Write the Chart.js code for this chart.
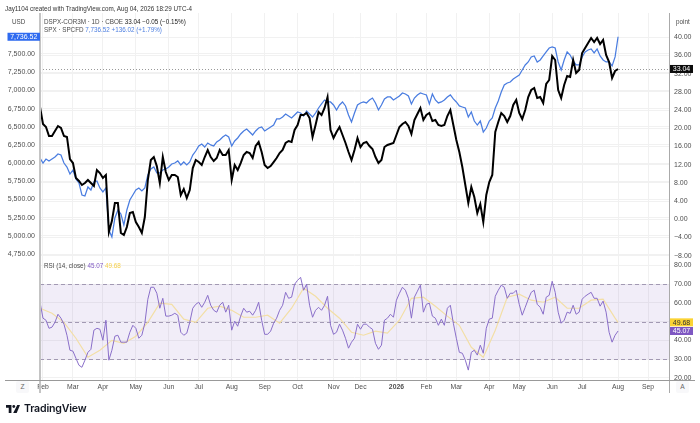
<!DOCTYPE html>
<html><head><meta charset="utf-8">
<script src="https://cdn.jsdelivr.net/npm/chart.js@4"></script>
<style>
html,body{margin:0;padding:0;background:#fff;overflow:hidden}
#w{position:relative;width:700px;height:423px;font-family:"Liberation Sans",Arial,sans-serif;color:#444}
canvas{position:absolute;left:0;top:0}
.t{position:absolute;font-size:6.3px;line-height:9px;white-space:pre;color:#4a4a4a}
.b{color:#4d7fe0}.k{color:#222}.p{color:#7e57c2}.y{color:#f5cf4a}
.btn{position:absolute;top:381px;width:13px;height:12px;background:#f8f8fa;border-radius:2px;text-align:center;font-size:6.6px;line-height:12px;color:#666}
#logo{position:absolute;left:6px;top:403px;height:11px;display:flex;align-items:center}
#logo span{font-family:Inter,"Liberation Sans",sans-serif;font-size:10.6px;font-weight:600;color:#131722;margin-left:4px;letter-spacing:-.2px;line-height:11px}
</style></head><body>
<div id="w">
<canvas id="c" width="700" height="423"></canvas>
<div class="t" style="left:5px;top:3.5px;color:#333">Jay1104 created with TradingView.com, Aug 04, 2026 18:29 UTC-4</div>
<div class="t" style="left:12px;top:17px">USD</div>
<div class="t" style="left:676px;top:17px">point</div>
<div class="t" style="left:44px;top:16.5px">DSPX-COR3M · 1D · CBOE <span class="k">33.04 −0.05 (−0.15%)</span></div>
<div class="t" style="left:44px;top:25px">SPX · SPCFD <span class="b">7,736.52 +136.02 (+1.79%)</span></div>
<div class="t" style="left:44px;top:261px">RSI (14, close) <span class="p">45.07</span> <span class="y">49.68</span></div>
<div class="btn" style="left:16px">Z</div>
<div class="btn" style="left:676px">A</div>
<div id="logo"><svg width="14" height="8" viewBox="0 0 36 20"><path fill="#131722" d="M0 0h14v20H7V7H0z"/><circle fill="#131722" cx="20" cy="3.6" r="3.6"/><path fill="#131722" d="M29 0h7l-8.5 20H18.5z"/></svg><span>TradingView</span></div>
</div>
<script>
const monthTickIndex = [1,11,21,32,43,53,64,75,86,98,107,119,129,139,150,160,171,181,193,203];
const monthTickLabel = ['Feb','Mar','Apr','May','Jun','Jul','Aug','Sep','Oct','Nov','Dec','2026','Feb','Mar','Apr','May','Jun','Jul','Aug','Sep'];
const sessionCount = 211;
const categories = Array.from({length: sessionCount}, (_, i) => 's' + i);

const priceTicks = [7500,7250,7000,6750,6500,6250,6000,5750,5500,5250,5000,4750];
const pointTicks = [40,36,32,28,24,20,16,12,8,4,0,-4,-8];
const rsiTicks = [80,70,60,50,40,30,20];
const rsiBands = [70,50,30];

const corr = [24.68,20.95,20.29,18.3,18.3,19.4,20.5,20.07,18.3,18.1,13.25,12.37,9.08,8.42,7.54,7.98,8.64,7.98,7.32,10.83,10.17,9.08,9.74,-2.8,-0.38,3.58,3.58,-3.0,-3.45,-1.69,1.38,1.6,-0.6,-1.69,-3.0,0.5,8.64,13.03,13.69,11.7,7.98,13.69,10.39,8.64,9.74,9.74,9.3,5.34,6.66,4.68,6.44,11.27,13.03,12.59,11.93,13.69,15.23,13.69,12.81,13.47,15.23,14.13,14.13,15.23,8.64,11.93,10.83,12.37,14.13,14.79,14.57,13.47,16.11,16.99,14.79,11.93,11.27,11.71,12.59,13.47,14.57,15.23,16.77,17.21,16.99,19.63,20.72,22.92,22.92,23.36,22.26,18.09,20.72,23.58,22.92,24.46,26.88,19.63,17.87,19.19,20.29,18.53,16.77,14.79,13.03,15.23,17.87,15.89,16.77,16.99,16.11,15.45,13.69,12.37,13.03,15.89,16.33,16.55,16.77,18.53,20.29,20.95,21.39,20.51,18.75,21.82,23.14,24.46,21.82,22.92,23.36,21.6,21.82,20.72,20.51,20.72,22.7,24.02,20.72,17.43,14.79,11.49,7.54,3.58,7.1,4.9,1.38,3.36,-0.6,5.34,8.2,9.74,19.19,21.39,23.36,22.7,21.39,22.7,25.12,26.22,23.36,22.04,24.02,26.88,28.42,28.86,26.66,26.88,25.56,29.74,30.62,35.89,35.01,28.42,26.66,29.52,31.5,31.28,35.01,32.15,32.81,36.55,37.65,38.75,39.85,38.97,39.85,38.53,39.41,36.11,34.57,31.06,32.59,33.04];

const spx = [6071,6002,6057,6030,6057,6085,6126,6112,6002,5947,5851,5906,5783,5728,5563,5549,5673,5631,5741,5755,5659,5604,5659,5082,4986,5247,5357,5302,5150,5357,5494,5563,5631,5659,5618,5659,5837,5920,5947,5865,5865,5906,5920,5947,5989,6002,6030,5975,6016,5975,6016,6112,6167,6236,6263,6222,6277,6250,6236,6291,6318,6360,6387,6360,6236,6305,6346,6401,6442,6470,6428,6387,6442,6483,6497,6442,6470,6497,6524,6607,6607,6634,6676,6648,6621,6662,6703,6689,6648,6717,6676,6634,6689,6758,6813,6868,6841,6841,6799,6731,6799,6841,6786,6662,6566,6689,6799,6827,6841,6827,6868,6895,6827,6731,6799,6882,6909,6909,6868,6895,6923,6964,6950,6923,6813,6895,6937,6964,6950,6937,6813,6950,6868,6827,6841,6868,6909,6937,6882,6841,6786,6772,6758,6634,6703,6579,6524,6579,6428,6483,6579,6621,6758,6854,6978,7074,7102,7115,7157,7184,7211,7280,7349,7390,7459,7473,7390,7418,7473,7528,7582,7596,7582,7390,7280,7418,7528,7486,7404,7349,7349,7459,7528,7555,7569,7514,7569,7473,7418,7390,7390,7335,7459,7736.52];

const rsi = [60.4,51.9,50.8,46.5,47.1,49.7,54.0,51.9,48.7,42.8,34.8,34.3,30.5,26.8,25.7,29.5,33.7,35.3,45.5,46.5,46.0,40.1,50.8,29.5,34.8,42.3,42.8,39.1,39.1,39.1,44.4,48.1,46.5,41.2,42.8,49.2,62.0,68.4,68.4,65.2,57.2,62.5,53.0,53.0,53.5,54.5,53.5,44.4,42.8,43.9,49.7,57.2,59.3,60.4,57.7,60.4,64.1,58.8,56.1,55.1,58.8,60.4,55.1,58.8,45.5,50.3,47.6,53.0,57.2,55.1,55.6,53.5,56.1,60.4,50.8,43.3,43.3,45.0,49.2,51.9,56.1,58.8,65.7,62.5,63.1,70.0,72.1,73.7,66.8,70.0,58.8,52.4,56.1,57.7,56.1,58.8,63.6,48.1,43.3,44.4,48.7,45.5,41.2,35.9,39.1,41.2,48.7,46.0,48.7,48.7,47.1,46.0,38.5,35.3,37.5,50.8,51.9,54.0,52.4,61.5,65.2,68.4,66.8,62.5,51.9,63.1,66.3,69.5,55.1,59.3,59.9,53.0,51.9,48.1,51.4,48.1,57.2,58.8,49.2,41.2,33.7,33.2,29.5,24.2,33.7,34.8,32.2,37.5,33.2,46.5,51.4,51.9,63.6,66.8,69.5,68.4,62.5,65.2,65.2,66.8,59.3,53.5,57.7,62.0,65.7,66.8,59.3,57.7,54.0,63.1,64.1,71.6,65.7,55.1,49.2,50.8,55.1,54.5,58.8,54.0,55.1,62.0,63.6,64.7,65.7,62.5,62.5,58.3,61.0,55.1,44.4,39.1,42.8,45.07];

const rsiMaIndex = [0,4,8,12,16,20,24,28,32,36,40,44,48,52,56,60,64,68,72,76,80,84,88,92,96,100,104,108,112,116,120,124,128,132,136,140,144,148,152,156,160,164,168,172,176,180,184,188,192,193];
const rsiMaValues = [57.2,54.5,49.7,41.2,31.1,34.8,40.1,38.5,42.3,49.7,59.9,59.3,51.4,49.7,57.2,58.3,56.1,52.4,52.4,53.5,49.2,57.2,67.9,63.6,57.2,51.9,44.4,42.8,45.0,43.9,50.8,62.5,63.1,58.3,53.0,48.1,36.4,31.1,45.5,63.1,64.7,61.5,60.4,63.1,57.2,57.2,61.5,62.0,51.9,49.68];

const lastCorr = 33.04, lastSpx = 7736.52, lastRsi = 45.07, lastMa = 49.68;

const FONT = '"Liberation Sans", Arial, sans-serif';
const GRID = '#f1f1f1', TICK = '#4f4f4f';

function fixed(list){ return s => { s.ticks = list.map(v => ({value:v})); }; }
function yAxis(extra){
  return Object.assign({
    type:'linear', border:{display:false},
    grid:{color:GRID, lineWidth:1, drawTicks:false},
    ticks:{color:TICK, font:{family:FONT,size:7}, padding:5, autoSkip:false,
      callback:v => v.toLocaleString('en-US',{minimumFractionDigits:2,maximumFractionDigits:2}).replace('-','−')}
  }, extra);
}

const panePlugin = {
  id:'panes',
  beforeDatasetsDraw(ch){
    const {ctx, chartArea:a, scales:s} = ch, r = s.yRsi;
    ctx.save();
    ctx.fillStyle = 'rgba(126,87,194,0.11)';
    ctx.fillRect(a.left, r.getPixelForValue(rsiBands[0]), a.right-a.left, r.getPixelForValue(rsiBands[2])-r.getPixelForValue(rsiBands[0]));
    ctx.strokeStyle = '#a299b3'; ctx.lineWidth = 1; ctx.setLineDash([4,3]);
    rsiBands.forEach(v => { const y = Math.round(r.getPixelForValue(v))+.5; ctx.beginPath(); ctx.moveTo(a.left,y); ctx.lineTo(a.right,y); ctx.stroke(); });
    ctx.strokeStyle = '#999'; ctx.setLineDash([1,2]);
    const y0 = Math.round(s.yPoint.getPixelForValue(lastCorr))+.5;
    ctx.beginPath(); ctx.moveTo(a.left,y0); ctx.lineTo(a.right,y0); ctx.stroke();
    ctx.restore();
  },
  afterDraw(ch){
    const {ctx, chartArea:a, scales:s} = ch;
    ctx.save();
    ctx.strokeStyle = '#c4c4c4'; ctx.lineWidth = 2;
    ctx.beginPath(); ctx.moveTo(a.left,a.top); ctx.lineTo(a.left,393); ctx.stroke();
    ctx.strokeStyle = '#aaa'; ctx.lineWidth = 1;
    ctx.beginPath(); ctx.moveTo(a.right+.5,a.top); ctx.lineTo(a.right+.5,393); ctx.stroke();
    ctx.strokeStyle = '#999';
    ctx.beginPath(); ctx.moveTo(5,a.bottom+.5); ctx.lineTo(695,a.bottom+.5); ctx.stroke();
    const badge = (txt,y,x,w,bg,fg) => {
      ctx.fillStyle = bg; ctx.fillRect(x,y-4,w,8);
      ctx.fillStyle = fg; ctx.font = '7px '+FONT; ctx.textAlign='center'; ctx.textBaseline='middle';
      ctx.fillText(txt,x+w/2,y+.5);
    };
    badge(lastSpx.toLocaleString('en-US',{minimumFractionDigits:2}), s.yPrice.getPixelForValue(lastSpx), 7.5,32.5,'#2f6bf0','#fff');
    badge(lastCorr.toFixed(2), s.yPoint.getPixelForValue(lastCorr), 670,23,'#0b0b0b','#fff');
    badge(lastMa.toFixed(2), s.yRsi.getPixelForValue(lastMa), 670,23,'#fbd334','#333');
    badge(lastRsi.toFixed(2), s.yRsi.getPixelForValue(lastRsi), 670,23,'#7e57c2','#fff');
    ctx.restore();
  }
};

new Chart(document.getElementById('c'), {
  type:'line',
  plugins:[panePlugin],
  data:{
    labels:categories,
    datasets:[
      {label:'SPX', data:spx, yAxisID:'yPrice', borderColor:'#4a7de0', borderWidth:1.25, pointRadius:0, tension:0, order:2},
      {label:'DSPX-COR3M', data:corr, yAxisID:'yPoint', borderColor:'#000', borderWidth:2, pointRadius:0, tension:0, order:1},
      {label:'RSI MA', data:rsiMaIndex.map((i,k)=>({x:categories[i],y:rsiMaValues[k]})), yAxisID:'yRsi', borderColor:'#f3dfa6', borderWidth:1.2, pointRadius:0, tension:0, order:4},
      {label:'RSI', data:rsi, yAxisID:'yRsi', borderColor:'#8a6fc9', borderWidth:1, pointRadius:0, tension:0, order:3}
    ]
  },
  options:{
    responsive:false, animation:false, devicePixelRatio:1,
    layout:{padding:{top:13,left:0,right:0,bottom:0}},
    plugins:{legend:{display:false}, tooltip:{enabled:false}},
    scales:{
      x:{
        type:'category', offset:false, border:{display:false},
        grid:{color:GRID, lineWidth:1, drawTicks:false},
        afterBuildTicks:s => { s.ticks = monthTickIndex.map(v => ({value:v})); },
        afterFit:s => { s.height = 43; },
        ticks:{color:TICK, autoSkip:false, maxRotation:0, padding:3,
          font:c => ({family:FONT, size:6.8, weight: c.tick && c.tick.label==='2026' ? '700':'400'}),
          callback:v => monthTickLabel[monthTickIndex.indexOf(v)]}
      },
      yPrice:yAxis({position:'left', stack:'L', stackWeight:245, weight:2, min:4697, max:8063, afterBuildTicks:fixed(priceTicks), afterFit:s=>{s.width=40;}}),
      yBlank:{type:'linear', position:'left', stack:'L', stackWeight:122, weight:1, min:0, max:1, border:{display:false}, grid:{display:false}, ticks:{display:false}, afterFit:s=>{s.width=40;}},
      yPoint:yAxis({position:'right', stack:'R', stackWeight:245, weight:1, min:-8.5, max:45.34, afterBuildTicks:fixed(pointTicks), afterFit:s=>{s.width=31;}}),
      yRsi:yAxis({position:'right', stack:'R', stackWeight:122, weight:2, min:18.93, max:84, afterBuildTicks:fixed(rsiTicks), afterFit:s=>{s.width=31;}})
    }
  }
});
</script>
</body></html>
